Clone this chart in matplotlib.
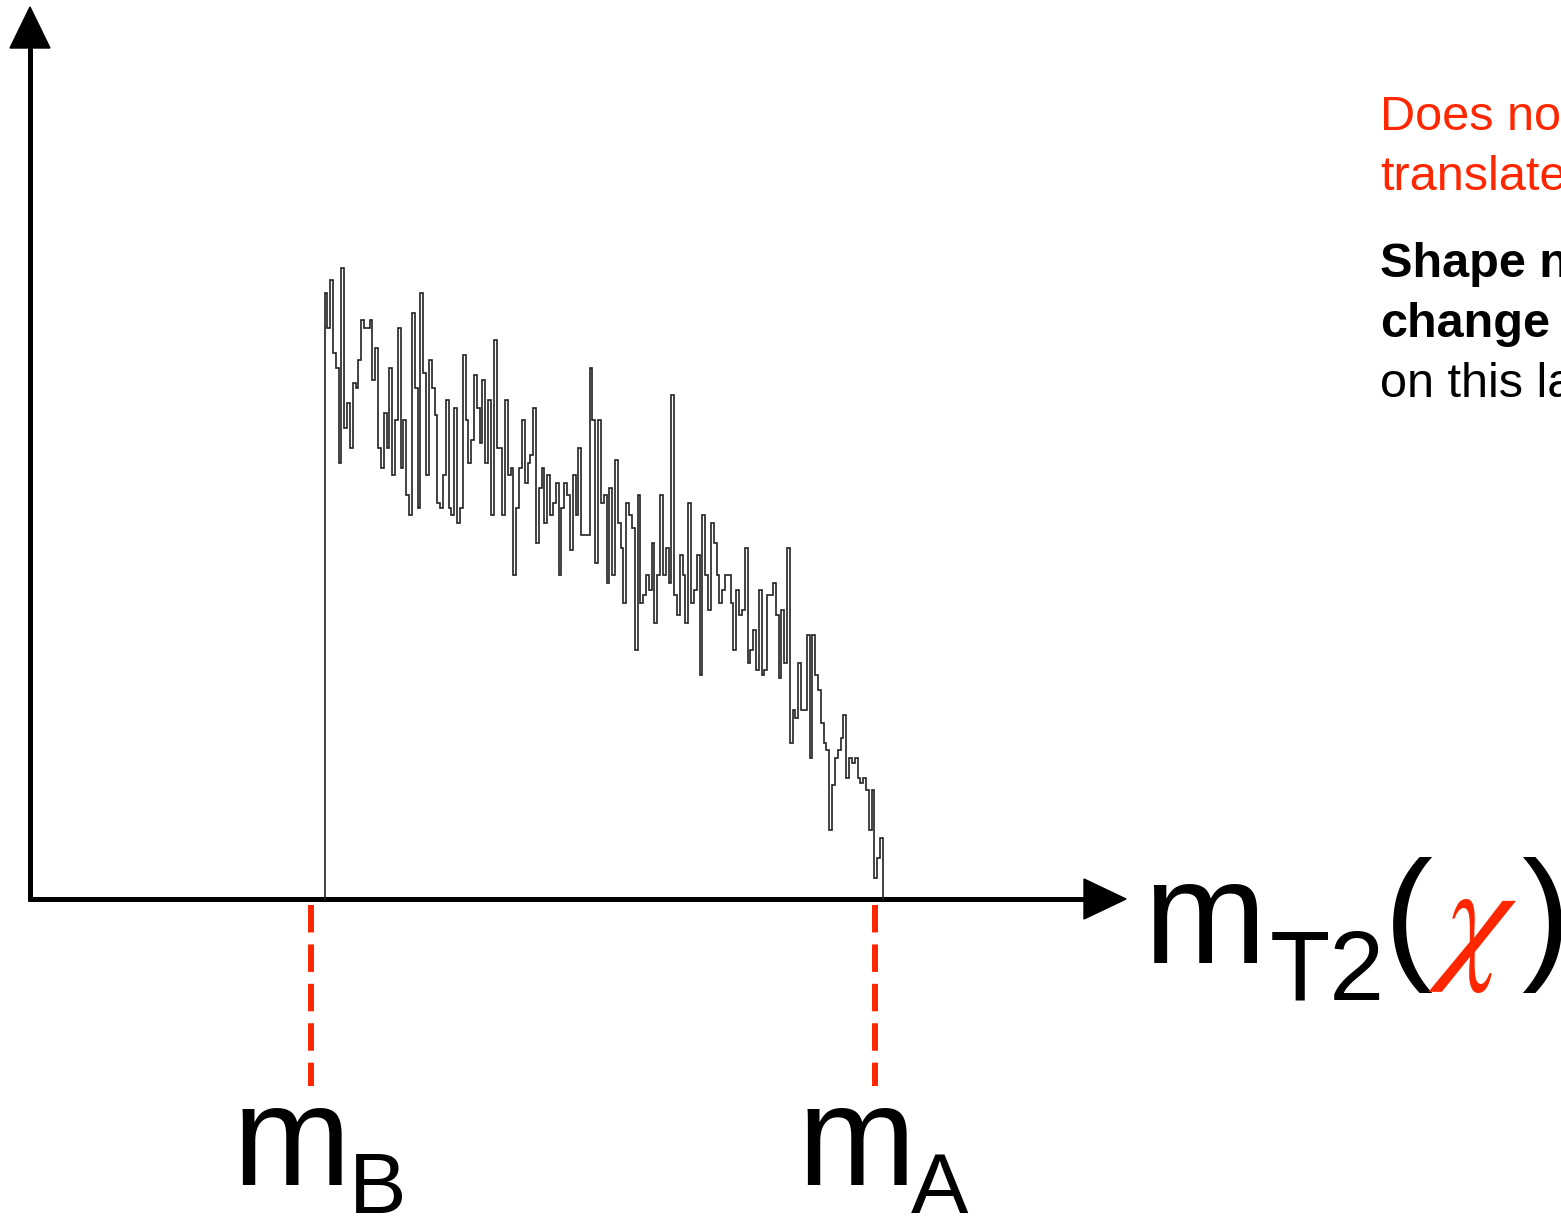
import numpy as np
import matplotlib
matplotlib.use("Agg")
import matplotlib.pyplot as plt
from matplotlib.patches import Polygon

# ---------------- data ----------------
counts = [243, 229, 248, 219, 213, 175, 253, 189, 199, 181, 207, 205, 216, 232, 229, 229, 232, 208, 221, 181,
          173, 195, 181, 213, 170, 192, 229, 173, 192, 162, 154, 235, 205, 157, 243, 211, 170, 216, 205, 194,
          159, 157, 170, 200, 157, 154, 197, 151, 157, 218, 192, 175, 184, 210, 197, 183, 208, 175, 200, 154,
          224, 181, 181, 154, 200, 170, 173, 130, 157, 173, 192, 167, 175, 178, 197, 143, 165, 173, 151, 170,
          154, 159, 167, 130, 157, 167, 162, 140, 170, 154, 181, 146, 146, 146, 213, 192, 135, 192, 159, 162,
          127, 165, 130, 176, 151, 141, 119, 159, 154, 149, 100, 162, 119, 122, 130, 124, 143, 111, 130, 162,
          130, 141, 127, 202, 122, 114, 138, 130, 111, 159, 119, 124, 138, 90, 154, 130, 116, 151, 143, 130,
          119, 124, 130, 130, 119, 100, 124, 114, 116, 141, 95, 100, 108, 92, 124, 90, 92, 122, 122, 127,
          114, 89, 116, 95, 141, 63, 76, 73, 95, 76, 76, 106, 57, 106, 90, 84, 71, 63, 60, 28,
          46, 57, 60, 65, 74, 49, 57, 55, 57, 49, 47, 49, 44, 28, 44, 9, 17, 25]
bin_lo = 104.8
bin_width = 1.0
m_B = 100.0
m_A = 300.0
axis_label_main = "m"
axis_label_sub = "T2"
axis_label_arg = r"$\chi$"
mB_main, mB_sub = "m", "B"
mA_main, mA_sub = "m", "A"
note_red = ["Does no", "translate"]
note_black_bold = ["Shape n", "change"]
note_black = ["on this la"]

# ---------------- figure ----------------
W, H, DPI = 1561, 1219, 100
RED = "#ff2600"
SANS = ["Liberation Sans", "DejaVu Sans"]
fig = plt.figure(figsize=(W / DPI, H / DPI), dpi=DPI)

deco = fig.add_axes([0, 0, 1, 1])
deco.set_xlim(0, W)
deco.set_ylim(H, 0)
deco.axis("off")

ax = fig.add_axes([0, 0, 1, 1])
ax.patch.set_alpha(0)
ax.axis("off")
PX_X0, SX, PY0, SY = 29.0, 2.82, 900.0, 2.5
ax.set_xlim(-PX_X0 / SX, (W - PX_X0) / SX)
ax.set_ylim((PY0 - H) / SY, PY0 / SY)

# axes with arrows (decoration, pixel coordinates)
lw_axis = 5 * 72 / DPI
deco.plot([30, 30], [901, 40], color="black", lw=lw_axis, solid_capstyle="butt")
deco.add_patch(Polygon([(30, 7), (10, 48), (50, 48)], closed=True, color="black"))
deco.plot([28, 1090], [899, 899], color="black", lw=lw_axis, solid_capstyle="butt")
deco.add_patch(Polygon([(1126, 899), (1084, 879), (1084, 919)], closed=True, color="black"))

# histogram
edges = bin_lo + bin_width * np.arange(len(counts) + 1)
ax.stairs(counts, edges, baseline=0, color="#222222", lw=1.2)

# red dashed markers
y_top = (PY0 - 905) / SY
y_bot = (PY0 - 1086) / SY
for xv in (m_B, m_A):
    ax.plot([xv, xv], [y_top, y_bot], color=RED, lw=4.3, linestyle=(0, (4.6, 2.0)),
            dash_capstyle="butt")

# labels
def t(x, y, s, size, color="black", family=SANS, weight="normal", **kw):
    deco.text(x, y, s, fontsize=size, color=color, family=family, weight=weight,
              ha="left", va="baseline", **kw)

t(1143, 963, axis_label_main, 106)
t(1270, 1000, axis_label_sub, 71)
t(1384, 963, "(", 106)
t(1428, 963, axis_label_arg, 104, color=RED, math_fontfamily="stix")
t(1521, 963, ")", 106)

t(233, 1185, mB_main, 102)
t(349, 1213, mB_sub, 62)
t(798, 1185, mA_main, 102)
t(911, 1213, mA_sub, 62)

for i, s in enumerate(note_red):
    t(1380, 130 + 60 * i, s, 35, color=RED)
for i, s in enumerate(note_black_bold):
    t(1380, 277 + 60 * i, s, 35, weight="bold")
for i, s in enumerate(note_black):
    t(1380, 397 + 60 * i, s, 35)

fig.savefig("out.png", dpi=DPI)
